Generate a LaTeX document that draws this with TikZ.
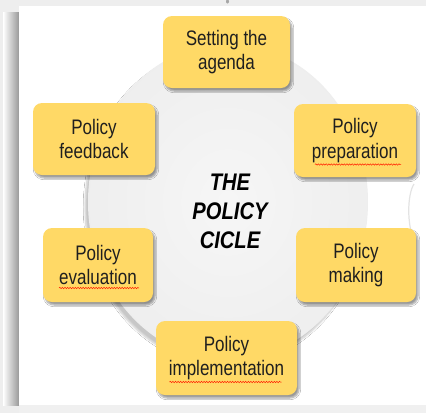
\documentclass[tikz,border=0pt]{standalone}
\usepackage{fontspec}
\newfontfamily\boxfont{Liberation Sans}[FakeStretch=0.81]
\newfontfamily\titlefont{Liberation Sans}[FakeStretch=0.84]
\usetikzlibrary{shadows.blur,decorations.pathmorphing,calc}
\definecolor{stageyellow}{HTML}{FFD966}
\definecolor{pagegray}{HTML}{EEEEEE}
\tikzset{
  stage/.style={rectangle, rounded corners=9pt, fill=stageyellow, align=center,
    inner sep=0pt, text=black!88,
    font=\boxfont\fontsize{21}{24.5}\selectfont,
    blur shadow={shadow xshift=2pt, shadow yshift=-3pt, shadow blur steps=6, shadow opacity=40}},
  squig/.style={draw=red!75!orange, line width=0.5pt, decorate,
    decoration={snake, amplitude=0.7pt, segment length=2.6pt}},
}
\begin{document}
\begin{tikzpicture}[x=1pt,y=-1pt]
\useasboundingbox (0,0) rectangle (426,413);
% canvas, page shadow and page
\fill[pagegray] (0,0) rectangle (426,413);
\shade[left color=white, right color=gray!80] (3,12) rectangle (19,405);
\fill[white] (19,6) rectangle (426,405);
\fill[gray!12] (19,405) rectangle (426,413);
\fill[gray!70] (227.5,1.5) ellipse [x radius=1.5, y radius=2];
% faint edge of a neighbouring shape on the right
\draw[gray!22, line width=1.2pt] (414,184) .. controls (407,195) and (407,225) .. (414,240);
% central disc
\shade[inner color=gray!7, outer color=gray!13,
  blur shadow={shadow xshift=-3pt, shadow yshift=-5pt, shadow blur steps=8, shadow opacity=22}]
  (228,202) ellipse [x radius=140, y radius=158];
% title
\node[font=\titlefont\bfseries\itshape\fontsize{24}{29}\selectfont, align=center, text=black]
  (title) at (230,211) {THE\\POLICY\\CICLE};
% stages of the cycle
\node[stage, minimum width=127pt, minimum height=72pt] (agenda)   at (226.5,52)  {Setting the\\agenda};
\node[stage, minimum width=122pt, minimum height=72pt] (feedback) at (94,139)    {Policy\\feedback};
\node[stage, minimum width=122pt, minimum height=73pt] (prep)     at (355,140.5) {Policy\\preparation};
\node[stage, minimum width=110pt, minimum height=74pt] (eval)     at (98,265)    {Policy\\evaluation};
\node[stage, minimum width=120pt, minimum height=74pt] (making)   at (356,265)   {Policy\\making};
\node[stage, minimum width=141pt, minimum height=74pt] (impl)     at (226.5,358) {Policy\\implementation};
% spell-check underlines
\draw[squig] ($(prep.center)+(-40,24)$) -- ($(prep.center)+(46,24)$);
\draw[squig] ($(eval.center)+(-39,23)$) -- ($(eval.center)+(41,23)$);
\draw[squig] ($(impl.center)+(-57,24)$) -- ($(impl.center)+(55,24)$);
\end{tikzpicture}
\end{document}
